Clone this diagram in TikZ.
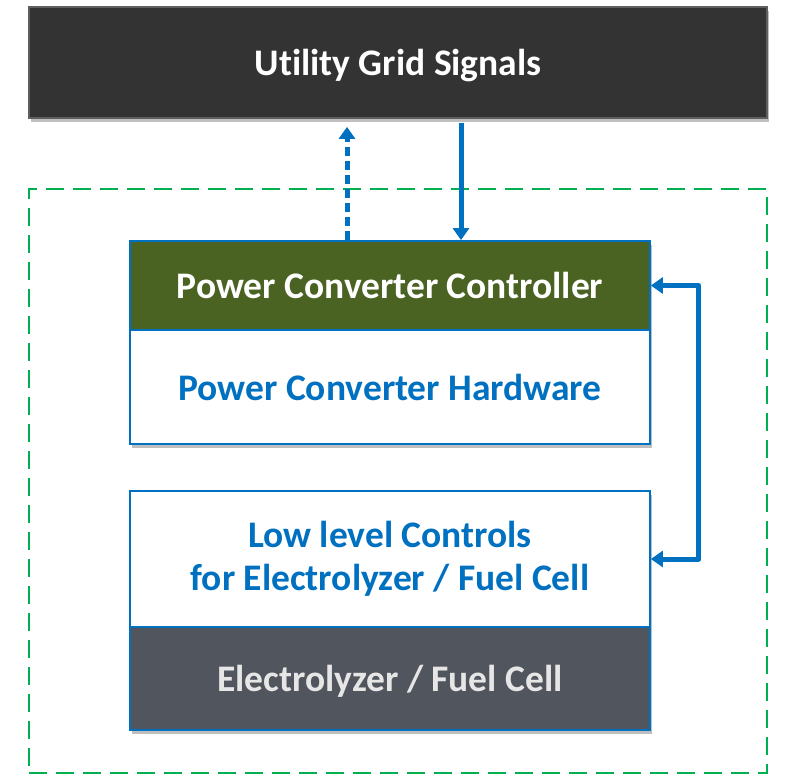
\documentclass[tikz,border=0pt]{standalone}
\usepackage{fontspec}
\setmainfont{Carlito}[Ligatures=NoCommon]
\usepackage{tikz}
\usetikzlibrary{arrows.meta, positioning, shadows}
\usepackage{xcolor}
\definecolor{primary}{RGB}{0,112,192}
\definecolor{gridgray}{RGB}{51,51,51}
\definecolor{gridline}{RGB}{95,95,95}
\definecolor{olive}{RGB}{74,98,34}
\definecolor{stackgray}{RGB}{81,85,93}
\definecolor{stacktext}{RGB}{231,230,230}
\definecolor{framegreen}{RGB}{0,176,80}

\tikzset{
    blockbox/.style={draw=primary, line width=1.8pt, fill=white,
        minimum width=520pt, inner sep=0pt, align=center,
        font=\fontsize{37.5}{43}\selectfont\bfseries,
        drop shadow={shadow xshift=2pt, shadow yshift=-4pt,
            opacity=0.25, fill=black}},
    oneline/.style={text depth=0pt},
    flow/.style={draw=primary, line width=5pt, line join=round,
        -{Triangle[length=12pt, width=16pt]}},
}

\begin{document}
\begin{tikzpicture}[x=1pt, y=-1pt]
    \useasboundingbox (0,0) rectangle (785,776);
    % dashed frame round the converter and the stack
    \node (frame) [draw=framegreen, line width=2.8pt,
        dash pattern=on 18pt off 9pt,
        minimum width=738pt, minimum height=584pt] at (398,481) {};
    \node (grid) [blockbox, oneline, draw=gridline, fill=gridgray, text=white,
        minimum width=738pt, minimum height=111pt] at (398,62.5)
      {Utility Grid Signals};
    \node (ctrl) [blockbox, oneline, fill=olive, text=white,
        minimum height=89pt] at (390,285.5)
      {Power Converter Controller};
    \node (hw) [blockbox, oneline, text=primary,
        minimum height=114pt] at (390,387)
      {Power Converter Hardware};
    \node (llc) [blockbox, text=primary,
        minimum height=136pt] at (390,559)
      {Low level Controls\\for Electrolyzer / Fuel Cell};
    \node (stack) [blockbox, oneline, fill=stackgray, text=stacktext,
        minimum height=103pt] at (390,678.5)
      {Electrolyzer / Fuel Cell};
    % signals
    \draw[flow, dash pattern=on 9pt off 5pt, shorten >=8pt]
      ([xshift=-43pt]ctrl.north) -- ([xshift=-51pt]grid.south);
    \draw[flow, shorten <=4pt]
      ([xshift=63pt]grid.south) -- ([xshift=71pt]ctrl.north);
    \draw[flow, {Triangle[length=12pt, width=16pt]}-{Triangle[length=12pt, width=16pt]}]
      (ctrl.east) -- ++(48,0) |- (llc.east);
\end{tikzpicture}
\end{document}
